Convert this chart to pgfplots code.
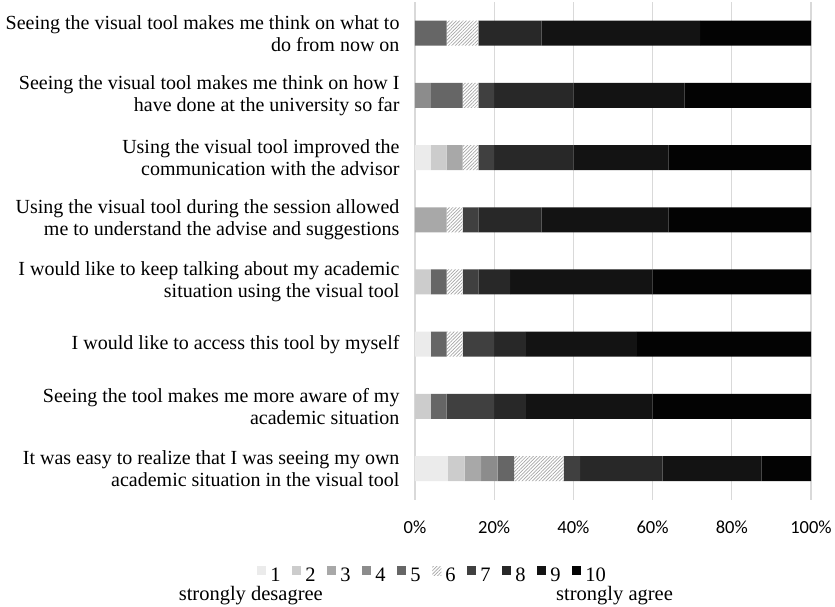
\documentclass[border=0pt]{standalone}
\usepackage{pgfplots}
\pgfplotsset{compat=1.18}
\usepackage{pgfplotstable}
\usepackage{fontspec}
\setmainfont{Liberation Serif}
\newfontfamily\calibri{Carlito}
\usetikzlibrary{patterns.meta}

\definecolor{c1}{HTML}{EBEBEB}
\definecolor{c2}{HTML}{CCCCCC}
\definecolor{c3}{HTML}{A8A8A8}
\definecolor{c4}{HTML}{8C8C8C}
\definecolor{c5}{HTML}{666666}
\definecolor{c7}{HTML}{404040}
\definecolor{c8}{HTML}{282828}
\definecolor{c9}{HTML}{131313}
\definecolor{c10}{HTML}{030303}
\definecolor{gridc}{HTML}{D9D9D9}

\pgfplotstableread{
idx c1 c2 c3 c4 c5 c6 c7 c8 c9 c10
1 0 0 0 0 8 8 0 16 40 28
2 0 0 0 4 8 4 4 20 28 32
3 4 4 4 0 0 4 4 20 24 36
4 0 0 8 0 0 4 4 16 32 36
5 0 4 0 0 4 4 4 8 36 40
6 4 0 0 0 4 4 8 8 28 44
7 0 4 0 0 4 0 12 8 32 40
8 8.33 4.17 4.17 4.17 4.17 12.5 4.17 20.83 25 12.5
}\data

\begin{document}
\begin{tikzpicture}
\useasboundingbox (0,0) rectangle (835pt,606pt);
\begin{axis}[
  at={(415pt,106.4pt)}, anchor=south west,
  scale only axis, width=396pt, height=497.5pt,
  xbar stacked, bar width=25pt,
  xmin=0, xmax=100, ymin=0.5, ymax=8.5, y dir=reverse,
  xtick={0,20,...,100},
  xticklabels={0\%,20\%,40\%,60\%,80\%,100\%},
  ytick={1,...,8},
  yticklabels={
    {Seeing the visual tool makes me think on what to\\do from now on},
    {Seeing the visual tool makes me think on how I\\have done at the university so far},
    {Using the visual tool improved the\\communication with the advisor},
    {Using the visual tool during the session allowed\\me to understand the advise and suggestions},
    {I would like to keep talking about my academic\\situation using the visual tool},
    {I would like to access this tool by myself},
    {Seeing the tool makes me more aware of my\\academic situation},
    {It was easy to realize that I was seeing my own\\academic situation in the visual tool}},
  yticklabel style={align=right, font=\fontsize{20}{22}\selectfont, xshift=-12pt},
  xticklabel style={font=\calibri\fontsize{18.5}{20}\selectfont, yshift=-18pt},
  xmajorgrids, grid style={line width=1.2pt, color=gridc},
  axis line style={draw=none}, tick style={draw=none},
  legend image code/.code={\draw[#1,draw=none] (0pt,0pt) rectangle (9pt,9pt);},
  legend columns=10,
  legend style={at={(-0.3985,-0.152)}, anchor=west, draw=none, fill=none,
    inner sep=0pt, font=\fontsize{20.5}{22}\selectfont,
    nodes={inner xsep=4pt},
    /tikz/every even column/.append style={column sep=4pt}},
]
\addplot[fill=c1, draw=none] table[x=c1, y=idx] {\data};
\addplot[fill=c2, draw=none] table[x=c2, y=idx] {\data};
\addplot[fill=c3, draw=none] table[x=c3, y=idx] {\data};
\addplot[fill=c4, draw=none] table[x=c4, y=idx] {\data};
\addplot[fill=c5, draw=none] table[x=c5, y=idx] {\data};
\addplot[fill=white, postaction={pattern={Lines[angle=45,distance=2.4pt,line width=0.7pt]}, pattern color=gray!70}, draw=none] table[x=c6, y=idx] {\data};
\addplot[fill=c7, draw=none] table[x=c7, y=idx] {\data};
\addplot[fill=c8, draw=none] table[x=c8, y=idx] {\data};
\addplot[fill=c9, draw=none] table[x=c9, y=idx] {\data};
\addplot[fill=c10, draw=none] table[x=c10, y=idx] {\data};
\legend{\makebox[14pt][l]{1},\makebox[14pt][l]{2},\makebox[14pt][l]{3},\makebox[14pt][l]{4},\makebox[14pt][l]{5},\makebox[14pt][l]{6},\makebox[14pt][l]{7},\makebox[14pt][l]{8},\makebox[14pt][l]{9},\makebox[14pt][l]{10}}
\end{axis}
\node[anchor=base east, font=\fontsize{20.5}{22}\selectfont, inner sep=0pt] at (323pt,6pt) {strongly desagree};
\node[anchor=base west, font=\fontsize{20.5}{22}\selectfont, inner sep=0pt] at (556pt,6pt) {strongly agree};
\end{tikzpicture}
\end{document}
